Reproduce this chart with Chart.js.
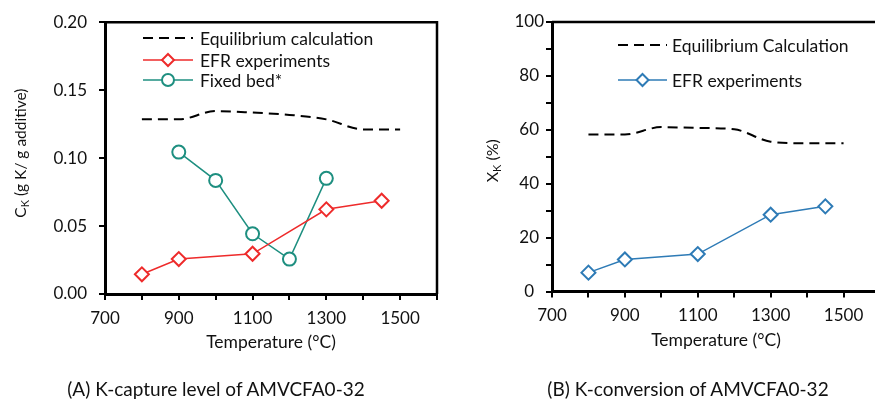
<!DOCTYPE html>
<html>
<head>
<meta charset="utf-8">
<script src="https://cdn.jsdelivr.net/npm/chart.js@4.4.1/dist/chart.umd.min.js"></script>
<style>
  html, body { margin: 0; padding: 0; background: #fff; }
  body { width: 875px; height: 399px; overflow: hidden; position: relative; font-family: Lato, "Open Sans", sans-serif; }
  #cA { position: absolute; left: 0; top: 0; }
  #cB { position: absolute; left: 440px; top: 0; }
  .cap { position: absolute; top: 377px; font-size: 19px; color: #111; white-space: nowrap; transform: translateX(-50%); }
</style>
</head>
<body>
<canvas id="cA" width="446" height="399"></canvas>
<canvas id="cB" width="449" height="399"></canvas>
<div class="cap" style="left:216px">(A) K-capture level of AMVCFA0-32</div>
<div class="cap" style="left:688px">(B) K-conversion of AMVCFA0-32</div>
<script>
// ---------- Data ----------
const eqTemps = [800, 900, 1000, 1100, 1200, 1300, 1400, 1500];
const eqCaptureA = [0.1285, 0.1285, 0.1346, 0.1335, 0.1318, 0.1285, 0.1211, 0.1211];
const efrTemps = [800, 900, 1100, 1300, 1450];
const efrCaptureA = [0.0145, 0.0257, 0.0296, 0.0623, 0.0686];
const fixedTemps = [900, 1000, 1100, 1200, 1300];
const fixedCaptureA = [0.1044, 0.0836, 0.0443, 0.0257, 0.0851];
const eqConversionB = [58.3, 58.3, 61.0, 60.7, 60.2, 55.6, 55.0, 55.0];
const efrConversionB = [7.0, 11.9, 13.9, 28.5, 31.6];
const xLabelTicks = [700, 900, 1100, 1300, 1500];

const labelsA = ['Equilibrium calculation', 'EFR experiments', 'Fixed bed*'];
const labelsB = ['Equilibrium Calculation', 'EFR experiments'];

const FONT = 'Lato, "Open Sans", sans-serif';
const TXT = '#111';
const RED = '#ee2b2b';
const TEAL = '#1e8f80';
const BLUE = '#2e7bb6';
const DASH = [10, 6];

function pts(xs, ys) { return xs.map((x, i) => ({ x: x, y: ys[i] })); }

function drawMarker(ctx, style, x, y, r, color) {
  ctx.save();
  ctx.beginPath();
  if (style === 'rectRot') {
    ctx.moveTo(x, y - r); ctx.lineTo(x + r, y); ctx.lineTo(x, y + r); ctx.lineTo(x - r, y); ctx.closePath();
  } else {
    ctx.arc(x, y, r, 0, Math.PI * 2);
  }
  ctx.fillStyle = '#fff';
  ctx.fill();
  ctx.lineWidth = 2;
  ctx.strokeStyle = color;
  ctx.stroke();
  ctx.restore();
}

const framePlugin = {
  id: 'frame',
  afterDraw(chart) {
    const { ctx, chartArea } = chart;
    ctx.save();
    ctx.strokeStyle = '#000';
    ctx.lineWidth = 2.5;
    ctx.beginPath();
    ctx.moveTo(chartArea.left, chartArea.top);
    ctx.lineTo(chartArea.right, chartArea.top);
    ctx.lineTo(chartArea.right, chartArea.bottom);
    ctx.stroke();
    ctx.restore();
  }
};

const legendPlugin = {
  id: 'boxLegend',
  afterDraw(chart, args, opts) {
    const ctx = chart.ctx;
    ctx.save();
    ctx.font = '17.5px ' + FONT;
    ctx.textBaseline = 'middle';
    ctx.fillStyle = TXT;
    opts.items.forEach((it, i) => {
      const y = opts.rows[i];
      ctx.save();
      ctx.strokeStyle = it.color;
      ctx.lineWidth = it.dash ? 2 : 1.5;
      ctx.setLineDash(it.dash || []);
      ctx.beginPath();
      ctx.moveTo(opts.x0, y);
      ctx.lineTo(opts.x1, y);
      ctx.stroke();
      ctx.restore();
      if (it.point) drawMarker(ctx, it.point, (opts.x0 + opts.x1) / 2, y, 6, it.color);
      ctx.fillText(it.label, opts.tx, y + 1);
    });
    ctx.restore();
  }
};

const yTitlePlugin = {
  id: 'yTitle',
  afterDraw(chart, args, opts) {
    const ctx = chart.ctx;
    const ca = chart.chartArea;
    const cy = (ca.top + ca.bottom) / 2 + (opts.dy || 0);
    ctx.save();
    ctx.translate(opts.x, cy);
    ctx.rotate(-Math.PI / 2);
    ctx.fillStyle = TXT;
    ctx.textBaseline = 'middle';
    const big = opts.size + 'px ' + FONT, small = Math.round(opts.size * 0.68) + 'px ' + FONT;
    ctx.font = big; const w1 = ctx.measureText(opts.main).width;
    const w3 = ctx.measureText(opts.rest).width;
    ctx.font = small; const w2 = ctx.measureText(opts.sub).width;
    let x = -(w1 + w2 + w3) / 2;
    ctx.textAlign = 'left';
    ctx.font = big; ctx.fillText(opts.main, x, 0); x += w1;
    ctx.font = small; ctx.fillText(opts.sub, x, 4); x += w2;
    ctx.font = big; ctx.fillText(opts.rest, x, 0);
    ctx.restore();
  }
};

function xScale(h) {
  return {
    type: 'linear', min: 700, max: 1600,
    afterFit(s) { s.height = h; },
    border: { display: true, width: 3, color: '#000' },
    grid: { drawOnChartArea: false, drawTicks: true, tickLength: 6, color: '#000', lineWidth: 2 },
    ticks: {
      stepSize: 100, autoSkip: false, maxRotation: 0, padding: 8, color: TXT,
      font: { family: FONT, size: 17 },
      callback: v => xLabelTicks.includes(v) ? String(v) : ''
    },
    title: { display: true, text: 'Temperature (°C)', color: TXT, font: { family: FONT, size: 17.5 }, padding: { top: 0, bottom: h - 59 } }
  };
}

// ---------- Chart A ----------
new Chart(document.getElementById('cA'), {
  type: 'line',
  data: {
    datasets: [
      { label: labelsA[0], data: pts(eqTemps, eqCaptureA), borderColor: '#000', borderWidth: 2, borderDash: DASH, pointRadius: 0, cubicInterpolationMode: 'monotone', fill: false },
      { label: labelsA[1], data: pts(efrTemps, efrCaptureA), borderColor: RED, borderWidth: 1.5, pointStyle: 'rectRot', pointRadius: 7, pointBorderWidth: 2, pointBackgroundColor: '#fff', pointBorderColor: RED, fill: false },
      { label: labelsA[2], data: pts(fixedTemps, fixedCaptureA), borderColor: TEAL, borderWidth: 1.5, pointStyle: 'circle', pointRadius: 6.5, pointBorderWidth: 2, pointBackgroundColor: '#fff', pointBorderColor: TEAL, fill: false }
    ]
  },
  options: {
    responsive: false, animation: false, devicePixelRatio: 1,
    layout: { padding: { top: 22, right: 2, left: 0, bottom: 0 } },
    plugins: {
      legend: { display: false }, tooltip: { enabled: false },
      boxLegend: { x0: 143, x1: 193, tx: 200, rows: [38, 60, 80], items: [
        { label: labelsA[0], color: '#000', dash: DASH },
        { label: labelsA[1], color: RED, point: 'rectRot' },
        { label: labelsA[2], color: TEAL, point: 'circle' }
      ] },
      yTitle: { x: 21, dy: -5, size: 15.5, main: 'C', sub: 'K', rest: ' (g K/ g additive)' }
    },
    scales: {
      x: xScale(105),
      y: {
        type: 'linear', min: 0, max: 0.2,
        afterFit(s) { s.width = 105; },
        border: { display: true, width: 3, color: '#000' },
        grid: { drawOnChartArea: false, drawTicks: true, tickLength: 6, color: '#000', lineWidth: 2 },
        ticks: { stepSize: 0.05, padding: 12, color: TXT, font: { family: FONT, size: 17 }, callback: v => v.toFixed(2) }
      }
    }
  },
  plugins: [framePlugin, legendPlugin, yTitlePlugin]
});

// ---------- Chart B ----------
new Chart(document.getElementById('cB'), {
  type: 'line',
  data: {
    datasets: [
      { label: labelsB[0], data: pts(eqTemps, eqConversionB), borderColor: '#000', borderWidth: 2, borderDash: DASH, pointRadius: 0, cubicInterpolationMode: 'monotone', fill: false },
      { label: labelsB[1], data: pts(efrTemps, efrConversionB), borderColor: BLUE, borderWidth: 1.5, pointStyle: 'rectRot', pointRadius: 7, pointBorderWidth: 2, pointBackgroundColor: '#fff', pointBorderColor: BLUE, fill: false }
    ]
  },
  options: {
    responsive: false, animation: false, devicePixelRatio: 1,
    layout: { padding: { top: 22, right: 0, left: 0, bottom: 0 } },
    plugins: {
      legend: { display: false }, tooltip: { enabled: false },
      boxLegend: { x0: 178, x1: 227, tx: 232, rows: [45, 80], items: [
        { label: labelsB[0], color: '#000', dash: DASH },
        { label: labelsB[1], color: BLUE, point: 'rectRot' }
      ] },
      yTitle: { x: 53, dy: 4, size: 16, main: 'X', sub: 'K', rest: ' (%)' }
    },
    scales: {
      x: xScale(107.5),
      y: {
        type: 'linear', min: 0, max: 100,
        afterFit(s) { s.width = 112; },
        border: { display: true, width: 3, color: '#000' },
        grid: { drawOnChartArea: false, drawTicks: true, tickLength: 6, color: '#000', lineWidth: 2 },
        ticks: { stepSize: 10, padding: 2, crossAlign: 'center', color: TXT, font: { family: FONT, size: 17 }, callback: v => (v % 20 === 0 ? String(v) : '') }
      }
    }
  },
  plugins: [framePlugin, legendPlugin, yTitlePlugin]
});
</script>
</body>
</html>
